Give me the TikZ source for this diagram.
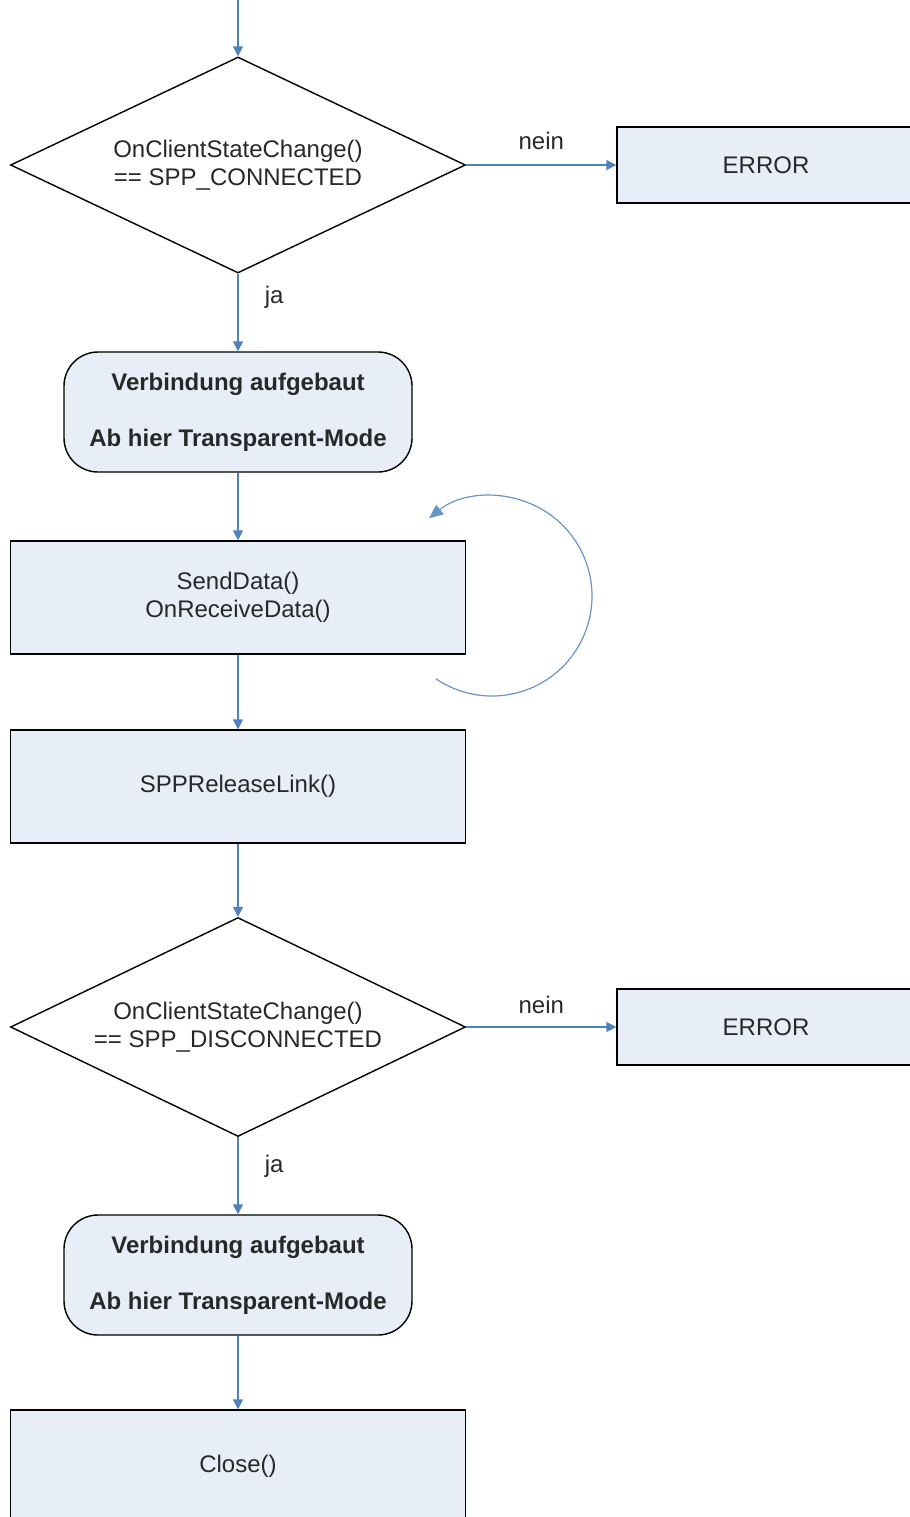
\documentclass[tikz,border=0pt]{standalone}
\usepackage{fontspec}
\setmainfont{Liberation Sans}
\usepackage{tikz}
\usetikzlibrary{calc, arrows.meta, shapes, positioning}
\definecolor{boxfill}{RGB}{232, 238, 247}
\definecolor{arrowblue}{RGB}{79, 129, 189}
\definecolor{textgray}{RGB}{40, 40, 40}
\tikzset{
    boxnode/.style = {draw, rectangle, fill=boxfill, line width=0.7pt, minimum width=227.5pt,
      minimum height=56.5pt, inner sep=0pt, text=textgray},
    errornode/.style = {boxnode, minimum width=149pt, minimum height=38pt},
    roundnode/.style = {draw, rectangle, rounded corners=17pt, fill=boxfill, line width=0.7pt,
      minimum width=174pt, minimum height=60pt, inner sep=0pt, text=textgray,
      font=\fontsize{12}{14}\selectfont\bfseries},
    decisionnode/.style = {draw, diamond, aspect=2.1, fill=white, line width=0.7pt, inner sep=0pt,
      minimum width=227.5pt, minimum height=108pt, text=textgray},
    labelnode/.style = {draw=none, fill=none, inner sep=0pt, text=textgray},
    connect/.style = {arrowblue, line width=0.8pt, -{Triangle[length=5pt, width=5pt]}},
    loopline/.style = {arrowblue!85, line width=0.6pt, -{Triangle[length=7pt, width=6pt]}},
    every text node part/.style={align=center}
}

\begin{document}
\begin{tikzpicture}[x=1pt, y=1pt, node distance=0pt, every node/.style={font=\fontsize{12}{14}\selectfont}]
    \useasboundingbox (0,0) rectangle (455,-758.5);

    \coordinate (start) at (119,0);
    \node [decisionnode, name=cond1] at (119,-82.5) {OnClientStateChange()\\== SPP\_CONNECTED};
    \node [errornode, name=error1, right of=cond1, xshift=264pt] {ERROR};
    \node [roundnode, name=connected1, below of=cond1, yshift=-123.5pt]
        {Verbindung aufgebaut\\[14pt]Ab hier Transparent-Mode};
    \node [boxnode, name=data, below of=connected1, yshift=-92.75pt] {SendData()\\OnReceiveData()};
    \node [boxnode, name=release, below of=data, yshift=-94.5pt] {SPPReleaseLink()};

    \node [decisionnode, name=cond2, below of=release, yshift=-120.25pt, minimum height=109.5pt]
        {OnClientStateChange()\\== SPP\_DISCONNECTED};
    \node [errornode, name=error2, right of=cond2, xshift=264pt] {ERROR};
    \node [roundnode, name=connected2, below of=cond2, yshift=-124pt]
        {Verbindung aufgebaut\\[14pt]Ab hier Transparent-Mode};
    \node [boxnode, name=close, below of=connected2, yshift=-95.75pt] {Close()};

    \draw (start) edge[connect] (cond1);
    \draw (cond1) edge[connect] node[labelnode, above=7pt] {nein} (error1);
    \draw (cond1) edge[connect] node[labelnode, right=13pt, pos=0.3] {ja} (connected1);
    \draw (connected1) edge[connect] (data);
    \draw (data) edge[connect] (release);
    \draw (release) edge[connect] (cond2);
    \draw (cond2) edge[connect] node[labelnode, above=6pt] {nein} (error2);
    \draw (cond2) edge[connect] node[labelnode, right=13pt, pos=0.38] {ja} (connected2);
    \draw (connected2) edge[connect] (close);

    % repeat loop
    \coordinate (loop) at ($(data)+(127pt,0.75pt)$);
    \draw [loopline] ($(loop)+(-124:50pt)$) arc[start angle=-124, end angle=129, radius=50pt];
\end{tikzpicture}
\end{document}
